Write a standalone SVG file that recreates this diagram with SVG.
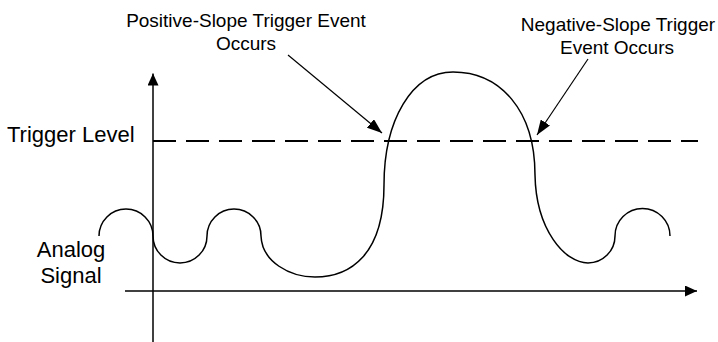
<svg xmlns="http://www.w3.org/2000/svg" width="718" height="342" viewBox="0 0 718 342">
  <style>
    .txt { font-family: "Liberation Sans", Arial, sans-serif; fill: #000; }
    .small { font-size: 19px; }
    .big { font-size: 22px; }
    .axis { stroke: #000; stroke-width: 1.5; fill: none; }
    .dash { stroke: #000; stroke-width: 2; stroke-dasharray: 23 10; fill: none; }
    .sig { stroke: #000; stroke-width: 1.5; fill: none; }
    .ptr { stroke: #000; stroke-width: 1.2; fill: none; }
  </style>
  <defs>
    <marker id="axhead" markerUnits="userSpaceOnUse" markerWidth="12" markerHeight="11" refX="12" refY="5.5" orient="auto">
      <path d="M0,0 L12,5.5 L0,11 z" fill="#000"/>
    </marker>
    <marker id="ptrhead" markerUnits="userSpaceOnUse" markerWidth="15" markerHeight="11" refX="15" refY="5.5" orient="auto">
      <path d="M0,0 L15,5.5 L0,11 z" fill="#000"/>
    </marker>
  </defs>

  <g id="axes">
    <line class="axis" x1="153" y1="342" x2="153" y2="73.5" marker-end="url(#axhead)"/>
    <line class="axis" x1="125" y1="291" x2="697" y2="291" marker-end="url(#axhead)"/>
  </g>

  <g id="trigger-level">
    <line class="dash" x1="153" y1="141" x2="698" y2="141"/>
    <text class="txt big" x="7" y="141.5">Trigger Level</text>
  </g>

  <g id="analog-signal">
    <path class="sig" d="M99,236 A27,27 0 0 1 153,236 A27,27 0 0 0 207,236 A27,27 0 0 1 261,236 C262,262 290,277 315,277 C350,277 384,255 384,185 C384,120 412,72 453,72 C500,72 535,110 535,175 C536,230 565,263 588,263 A27,27 0 0 0 615,236 A27,27 0 0 1 670,236"/>
    <text class="txt big" text-anchor="middle" x="71" y="257">Analog</text>
    <text class="txt big" text-anchor="middle" x="71" y="283">Signal</text>
  </g>

  <g id="positive-label">
    <text class="txt small" text-anchor="middle" x="246" y="27">Positive-Slope Trigger Event</text>
    <text class="txt small" text-anchor="middle" x="246" y="50">Occurs</text>
  </g>

  <g id="negative-label">
    <text class="txt small" text-anchor="middle" x="618" y="31">Negative-Slope Trigger</text>
    <text class="txt small" text-anchor="middle" x="617" y="54">Event Occurs</text>
  </g>

  <g id="connectors">
    <line class="ptr" x1="288" y1="55" x2="382" y2="133" marker-end="url(#ptrhead)"/>
    <line class="ptr" x1="588" y1="59" x2="537" y2="135" marker-end="url(#ptrhead)"/>
  </g>
</svg>
